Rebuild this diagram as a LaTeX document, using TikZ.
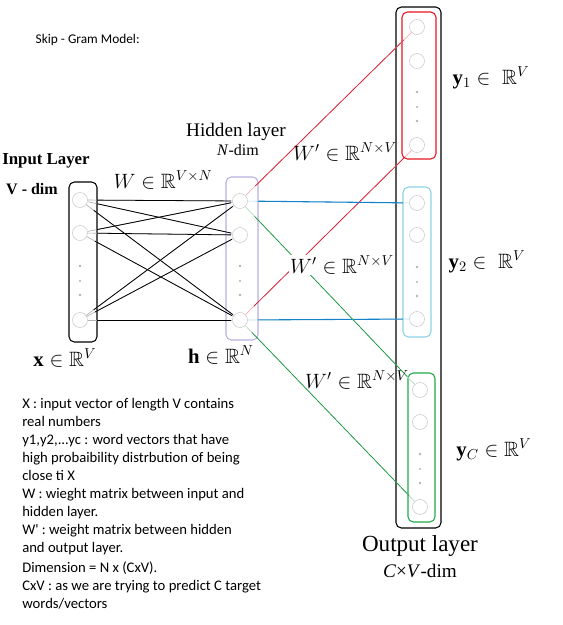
\documentclass[tikz,border=0pt]{standalone}
\usepackage{amssymb}
\usepackage{fontspec}
\setmainfont{Liberation Serif}
\newfontfamily\notefont{Carlito}
\newcommand{\mlab}[1]{\scalebox{1.08}{$#1$}}
\definecolor{redline}{RGB}{220,20,40}
\definecolor{blueline}{RGB}{20,130,200}
\definecolor{greenline}{RGB}{20,150,60}
\definecolor{hidbox}{RGB}{185,175,225}
\definecolor{cyanbox}{RGB}{140,210,230}
\definecolor{greenbox}{RGB}{30,170,70}
\definecolor{redbox}{RGB}{230,20,30}
\tikzset{
  lbox/.style={draw, rounded corners=4pt, line width=0.8pt, inner sep=0pt},
  neuron/.style={circle, draw=black!22, minimum size=11.25pt, inner sep=0pt},
  dotmark/.style={fill=black!30, draw=none},
  wlink/.style={black, line width=0.6pt},
  lightlink/.style={line width=0.5pt},
  layername/.style={font=\Large},
  mlabel/.style={font=\Large, inner sep=1pt},
}

\begin{document}
\begin{tikzpicture}[x=0.75pt,y=-0.75pt]
    \useasboundingbox (0,0) rectangle (562,625);
    \node[font=\notefont, anchor=west] (title) at (31,40) {Skip - Gram Model:};
    % layer boxes
    \node[lbox, draw=black, minimum width=33.75pt, minimum height=390.75pt] (outbox) at (418.5,267.5) {};
    \node[lbox, draw=black, minimum width=21pt, minimum height=120pt] (inbox) at (83,262) {};
    \node[lbox, draw=hidbox, minimum width=24pt, minimum height=122.25pt] (hidbox) at (242,258.5) {};
    \node[lbox, draw=redbox, minimum width=25.5pt, minimum height=110.25pt] (ybox1) at (419,85.5) {};
    \node[lbox, draw=cyanbox, minimum width=21pt, minimum height=112.5pt] (ybox2) at (417,262) {};
    \node[lbox, draw=greenbox, minimum width=20.25pt, minimum height=111.75pt] (yboxC) at (421.5,447.5) {};
    % neurons
    \node[neuron] (in1) at (80,200) {};
    \node[neuron] (in2) at (80,233) {};
    \node[neuron] (in3) at (80,320) {};
    \node[neuron] (hid1) at (240,201) {};
    \node[neuron] (hid2) at (240,235) {};
    \node[neuron] (hid3) at (240,320) {};
    \node[neuron] (ra) at (417,27) {};
    \node[neuron] (rb) at (417,61) {};
    \node[neuron] (rc) at (417,145) {};
    \node[neuron] (ca) at (417,203) {};
    \node[neuron] (cb) at (417,235) {};
    \node[neuron] (cc) at (417,319) {};
    \node[neuron] (ga) at (420,390) {};
    \node[neuron] (gb) at (420,422) {};
    \node[neuron] (gc) at (420,507) {};
    % dots between neurons
    \foreach \x/\y in {80/266, 240/266, 417/92, 417/267, 420/454} {
      \fill[dotmark] (\x,\y) circle (1pt);
      \fill[dotmark] (\x,\y+15) circle (0.8pt);
      \fill[dotmark] (\x,\y+29) circle (1pt);
    }
    % input -> hidden
    \foreach \i in {in1,in2,in3} {
      \foreach \j in {hid1,hid2,hid3} {
        \draw[lightlink, black!30] (\i) -- (\j);
        \draw[wlink, shorten <=7pt, shorten >=1pt] (\i) -- (\j);
      }
    }
    % hidden -> output
    \draw[lightlink, redline!35] (hid1) -- (ra);
    \draw[lightlink, redline, shorten <=10pt, shorten >=8pt] (hid1) -- (ra);
    \draw[lightlink, redline!35] (hid3) -- (rc);
    \draw[lightlink, redline, shorten <=9pt, shorten >=7pt] (hid3) -- (rc);
    \draw[lightlink, blueline!30] (hid1) -- (ca);
    \draw[line width=0.8pt, blueline, shorten <=7.5pt, shorten >=4.5pt] (hid1) -- (ca);
    \draw[lightlink, blueline!30] (hid3) -- (cc);
    \draw[line width=0.8pt, blueline, shorten <=7.5pt, shorten >=4.5pt] (hid3) -- (cc);
    \draw[lightlink, greenline!35] (hid1) -- (ga);
    \draw[lightlink, greenline, shorten <=10pt, shorten >=8pt] (hid1) -- (ga);
    \draw[lightlink, greenline!35] (hid3) -- (gc);
    \draw[lightlink, greenline, shorten <=7pt, shorten >=6pt] (hid3) -- (gc);
    % weight labels
    \node[mlabel] (wlabel) at (163,180) {\mlab{W\in\mathbb{R}^{V\times N}}};
    \node[mlabel] (wpa) at (345,152) {\mlab{W'\in\mathbb{R}^{N\times V}}};
    \node[mlabel, fill=white] (wpb) at (342,265) {\mlab{W'\in\mathbb{R}^{N\times V}}};
    \node[mlabel] (wpc) at (357,380) {\mlab{W'\in\mathbb{R}^{N\times V}}};
    % layer names
    \node[font=\bfseries\fontsize{12.6pt}{15pt}\selectfont] (inname) at (46,161) {Input Layer};
    \node[font=\bfseries\large] (indim) at (32,189) {V - dim};
    \node[layername] (hidname) at (236,132) {Hidden layer};
    \node[font=\large] (hiddim) at (238,150) {\textit{N}-dim};
    \node[font=\LARGE] (outname) at (420,546) {Output layer};
    \node[layername] (outdim) at (420,571) {\textit{C}×\textit{V}-dim};
    % vector labels
    \node[mlabel] (xvec) at (65,358) {\mlab{\mathbf{x}\in\mathbb{R}^V}};
    \node[mlabel] (hvec) at (221,355) {\mlab{\mathbf{h}\in\mathbb{R}^N}};
    \node[mlabel] (yone) at (491,78) {\mlab{\mathbf{y}_1\in\;\mathbb{R}^V}};
    \node[mlabel] (ytwo) at (487,262) {\mlab{\mathbf{y}_2\in\;\mathbb{R}^V}};
    \node[mlabel] (yc) at (494,450) {\mlab{\mathbf{y}_C\in\mathbb{R}^V}};
    % notes
    \node[font=\notefont\fontsize{11pt}{13.5pt}\selectfont, anchor=north west, inner sep=0pt, align=left] (notes) at (22,398) {%
      X : input vector of length V contains\\
      real numbers\\
      y1,y2,...yc : word vectors that have\\
      high probaibility distrbution of being\\
      close ti X\\
      W : wieght matrix between input and\\
      hidden layer.\\
      W' : weight matrix between hidden\\
      and output layer.\\[1.5pt]
      Dimension = N x (CxV).\\
      CxV : as we are trying to predict C target\\
      words/vectors};
  \end{tikzpicture}
\end{document}
